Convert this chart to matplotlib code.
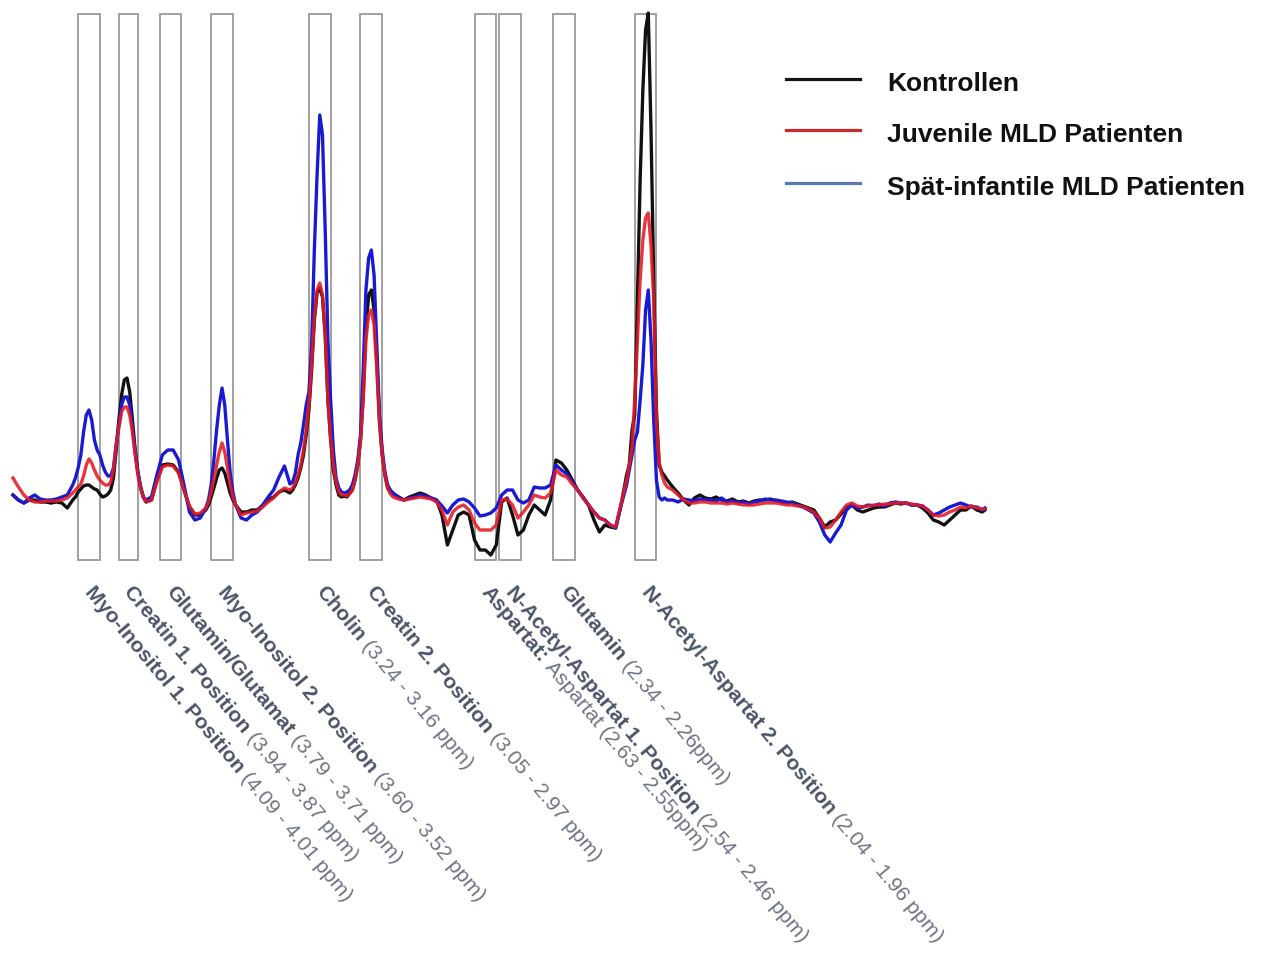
import matplotlib
matplotlib.use("Agg")
import matplotlib.pyplot as plt
from matplotlib.patches import Rectangle
from matplotlib.lines import Line2D
import numpy as np

plt.rcParams['font.family'] = ['Liberation Sans', 'DejaVu Sans']

# chemical shift grid (ppm), denser around the sharp peaks
ppm = [
    4.33, 4.31, 4.29, 4.27, 4.25, 4.23, 4.21, 4.19, 4.17, 4.15, 4.13, 4.11,
    4.10, 4.09, 4.08, 4.07, 4.06, 4.05, 4.04, 4.03, 4.02, 4.01, 4.00, 3.99, 3.98,
    3.97, 3.96, 3.95, 3.94, 3.93, 3.92, 3.91, 3.90, 3.89, 3.88, 3.87, 3.86, 3.85, 3.84,
    3.82, 3.80, 3.78, 3.76, 3.74, 3.72, 3.70, 3.68, 3.66, 3.64, 3.62,
    3.61, 3.60, 3.59, 3.58, 3.57, 3.56, 3.55, 3.54, 3.53, 3.52, 3.51,
    3.49, 3.47, 3.45, 3.43, 3.41, 3.39, 3.37, 3.35, 3.33, 3.31,
    3.30, 3.29, 3.28, 3.27, 3.26, 3.25, 3.24, 3.23, 3.22, 3.21, 3.20, 3.19, 3.18,
    3.17, 3.16, 3.15, 3.14, 3.13, 3.12, 3.11, 3.10, 3.09, 3.08, 3.07, 3.06, 3.05,
    3.04, 3.03, 3.02, 3.01, 3.00, 2.99, 2.98, 2.97, 2.96, 2.95, 2.94, 2.93,
    2.91, 2.89, 2.87, 2.85, 2.83, 2.81, 2.79, 2.77, 2.75, 2.73, 2.71, 2.69, 2.67,
    2.65, 2.63, 2.61, 2.59, 2.57, 2.55, 2.53, 2.51, 2.49, 2.47, 2.45, 2.43, 2.41,
    2.39, 2.37, 2.35, 2.33, 2.31, 2.29, 2.27, 2.25, 2.23, 2.21, 2.19, 2.17, 2.15,
    2.13, 2.11, 2.09, 2.07,
    2.06, 2.05, 2.04, 2.03, 2.02, 2.01, 2.00, 1.99, 1.98, 1.97, 1.96, 1.95, 1.94,
    1.93, 1.92,
    1.90, 1.88, 1.86, 1.84, 1.82, 1.80, 1.78, 1.76, 1.74, 1.72, 1.70, 1.68, 1.66,
    1.64, 1.62, 1.60, 1.58, 1.56, 1.54, 1.52, 1.50, 1.48, 1.46, 1.44, 1.42, 1.40,
    1.38, 1.36, 1.34, 1.32, 1.30, 1.28, 1.26, 1.24, 1.22, 1.20, 1.18, 1.16, 1.14,
    1.12, 1.10, 1.08, 1.06, 1.04, 1.02, 1.00, 0.98, 0.96, 0.94, 0.92, 0.90, 0.88,
    0.86, 0.84, 0.82, 0.80, 0.78, 0.76, 0.75,
]

# mean spectra (arbitrary units)
kontrollen = [
    0.5, 0.0, -0.3, 0.0, 0.0, -0.2, -0.2, -0.3, -0.2, -0.3, -0.8, 0.0,
    0.3, 0.8, 1.1, 1.4, 1.5, 1.5, 1.3, 1.1, 1.0, 0.6, 0.3, 0.4, 0.6, 1.0, 2.2,
    5.0, 8.0, 10.5, 12.0, 12.2, 10.8, 8.0, 5.0, 2.8, 1.2, 0.3, -0.2,
    0.0, 2.0, 3.5, 3.6, 3.5, 2.8, 1.0, -0.7, -1.5, -1.5, -1.0,
    -0.5, 0.3, 1.2, 2.2, 3.0, 3.2, 2.7, 1.7, 0.7, 0.0, -0.5,
    -1.2, -1.2, -1.0, -1.0, -0.5, 0.0, 0.3, 0.8, 1.0, 0.7,
    1.0, 1.5, 2.2, 3.2, 4.5, 6.5, 9.0, 13.0, 18.0, 20.7, 21.2, 20.3, 16.5,
    10.0, 6.0, 3.0, 1.5, 0.5, 0.3, 0.4, 0.3, 0.7, 1.0, 2.0, 3.5, 6.0,
    10.5, 17.0, 20.5, 21.0, 19.0, 14.0, 8.0, 4.5, 2.5, 1.2, 0.8, 0.6,
    0.3, 0.0, 0.3, 0.5, 0.7, 0.5, 0.2, 0.0, -1.5, -4.5, -3.0, -1.5, -1.2,
    -1.5, -4.0, -5.0, -5.0, -5.5, -4.5, -0.2, 0.2, -1.5, -3.5, -3.0, -1.5, -0.5,
    -1.0, -1.5, 0.0, 4.0, 3.7, 3.0, 2.0, 1.0, 0.3, -0.5, -2.0, -3.2, -2.5,
    -2.7, -2.8, -0.5, 2.5,
    3.5, 7.0, 8.5, 20.0, 32.0, 41.0, 47.0, 48.7, 37.0, 22.0, 9.0, 3.5, 2.8,
    2.4, 2.0,
    1.3, 0.7, 0.0, -0.5, 0.2, 0.5, 0.2, 0.1, 0.3, 0.0, -0.1, 0.1, -0.2,
    -0.1, -0.3, -0.1, 0.0, 0.0, 0.1, -0.1, -0.2, -0.3, -0.2, -0.4, -0.6, -0.8,
    -1.0, -1.8, -2.7, -2.2, -2.0, -1.4, -0.7, -0.5, -1.0, -1.2, -1.0, -0.8, -0.7,
    -0.7, -0.5, -0.3, -0.4, -0.3, -0.5, -0.5, -0.8, -1.3, -2.0, -2.2, -2.5, -2.0,
    -1.5, -1.0, -1.0, -0.6, -1.0, -1.2, -1.0,
]

juvenile = [
    2.2, 1.3, 0.5, 0.0, -0.2, -0.2, -0.1, -0.1, -0.1, 0.0, 0.2, 0.7,
    1.0, 1.3, 1.6, 2.4, 3.5, 4.1, 3.7, 3.0, 2.4, 2.0, 1.7, 1.5, 1.5, 1.8, 3.0,
    5.5, 7.2, 8.8, 9.3, 9.3, 8.5, 6.8, 4.5, 2.5, 1.2, 0.3, -0.2,
    0.0, 1.8, 3.3, 3.5, 3.4, 2.7, 1.0, -0.6, -1.4, -1.3, -0.8,
    -0.2, 0.8, 2.0, 3.5, 4.8, 5.7, 4.8, 3.2, 1.5, 0.3, -0.5,
    -1.5, -1.3, -1.2, -1.1, -0.7, -0.2, 0.2, 0.8, 1.2, 1.0,
    1.2, 1.7, 2.5, 3.5, 5.0, 7.0, 9.5, 13.5, 18.2, 21.0, 21.7, 20.5, 16.5,
    10.0, 6.2, 3.5, 1.8, 0.8, 0.5, 0.5, 0.4, 0.6, 1.0, 2.0, 3.5, 5.8,
    10.0, 16.0, 18.5, 19.0, 17.5, 13.0, 7.5, 4.5, 2.5, 1.2, 0.6, 0.3,
    0.1, 0.0, 0.1, 0.2, 0.3, 0.2, 0.1, -0.2, -1.0, -2.5, -1.2, -0.7, -0.5,
    -1.0, -2.3, -3.0, -3.0, -3.0, -2.5, 0.0, 0.1, -0.5, -1.8, -1.2, -0.5, 0.5,
    0.3, 0.2, 0.7, 3.0, 2.5, 2.3, 1.6, 1.0, 0.2, -0.5, -1.2, -1.8, -2.0,
    -2.5, -2.7, -0.3, 2.0,
    3.5, 5.3, 10.0, 16.0, 22.0, 26.0, 28.2, 28.7, 25.5, 20.0, 8.0, 3.8, 2.5,
    1.7, 1.3,
    1.0, 0.5, 0.0, -0.3, -0.3, -0.2, -0.2, -0.3, -0.3, -0.3, -0.4, -0.3, -0.4,
    -0.5, -0.5, -0.5, -0.4, -0.3, -0.3, -0.3, -0.4, -0.5, -0.5, -0.6, -0.7, -0.9,
    -1.2, -1.8, -2.8, -2.7, -2.0, -1.2, -0.5, -0.3, -0.6, -0.7, -0.6, -0.5, -0.5,
    -0.4, -0.4, -0.3, -0.3, -0.3, -0.4, -0.5, -0.6, -1.0, -1.5, -1.6, -1.5, -1.2,
    -1.0, -0.7, -0.8, -0.6, -0.8, -0.9, -0.9,
]

spaet_infantil = [
    0.5, 0.0, -0.3, 0.2, 0.5, 0.1, 0.0, 0.0, 0.1, 0.3, 0.5, 1.5,
    2.2, 3.2, 4.5, 6.8, 8.5, 9.0, 8.0, 6.0, 5.0, 4.5, 3.5, 2.8, 2.4, 2.4, 3.2,
    5.5, 7.5, 9.5, 10.3, 10.3, 9.5, 7.2, 4.8, 2.8, 1.4, 0.3, 0.0,
    0.3, 2.5, 4.5, 5.0, 5.0, 4.0, 1.5, -1.2, -2.0, -1.8, -0.8,
    0.0, 1.5, 4.0, 7.0, 9.5, 11.2, 9.5, 6.0, 2.7, 0.8, -0.5,
    -1.8, -2.0, -1.5, -1.2, -0.5, 0.3, 1.0, 2.3, 3.4, 1.6,
    1.8, 2.7, 4.5, 5.7, 7.5, 9.5, 10.8, 15.5, 25.0, 32.5, 38.5, 36.5, 27.0,
    16.0, 10.0, 5.0, 2.2, 1.2, 0.8, 0.7, 0.8, 1.0, 1.5, 2.5, 4.0, 6.5,
    13.0, 21.0, 24.2, 25.0, 22.5, 15.5, 8.5, 5.0, 2.8, 1.5, 1.0, 0.7,
    0.3, 0.0, 0.2, 0.3, 0.5, 0.4, 0.2, 0.0, -0.6, -1.3, -0.5, 0.0, 0.1,
    -0.2, -0.8, -1.6, -1.5, -1.3, -0.8, 0.5, 1.0, 1.0, 0.0, -0.3, 0.0, 1.3,
    1.2, 1.2, 1.5, 3.5, 3.0, 2.6, 1.8, 1.0, 0.2, -0.5, -1.2, -1.8, -2.0,
    -2.5, -2.8, -0.5, 1.5,
    3.0, 4.5, 6.0, 6.8, 10.0, 13.5, 19.0, 21.0, 16.0, 8.0, 2.0, 0.3, 0.0,
    0.2, 0.0,
    0.0, -0.2, 0.1, 0.0, -0.1, 0.1, 0.0, 0.0, -0.1, 0.2, -0.2, -0.1, -0.3,
    -0.2, -0.4, -0.2, -0.1, 0.1, 0.0, 0.0, -0.1, -0.2, -0.3, -0.5, -0.7, -1.0,
    -1.3, -2.2, -3.5, -4.2, -3.3, -2.5, -1.0, -0.5, -0.8, -0.7, -0.5, -0.6, -0.4,
    -0.6, -0.3, -0.2, -0.3, -0.3, -0.5, -0.5, -0.6, -1.0, -1.5, -1.3, -1.0, -0.7,
    -0.5, -0.3, -0.5, -0.7, -0.7, -1.0, -0.8,
]

series_names = ["Kontrollen", "Juvenile MLD Patienten", "Spät-infantile MLD Patienten"]

# integration windows (ppm, high -> low) and their labels
regions = [(4.09, 4.01), (3.94, 3.87), (3.79, 3.71), (3.60, 3.52), (3.24, 3.16),
           (3.05, 2.97), (2.63, 2.55), (2.54, 2.46), (2.34, 2.26), (2.04, 1.96)]
region_names = ["Myo-Inositol 1. Position", "Creatin 1. Position", "Glutamin/Glutamat",
                "Myo-Inositol 2. Position", "Cholin", "Creatin 2. Position", "Aspartat:",
                "N-Acetyl-Aspartat 1. Position", "Glutamin", "N-Acetyl-Aspartat 2. Position"]
region_ranges = ["(4.09 - 4.01 ppm)", "(3.94 - 3.87 ppm)", "(3.79 - 3.71 ppm)",
                 "(3.60 - 3.52 ppm)", "(3.24 - 3.16 ppm)", "(3.05 - 2.97 ppm)",
                 "Aspartat (2.63 - 2.55ppm)", "(2.54 - 2.46 ppm)", "(2.34 - 2.26ppm)",
                 "(2.04 - 1.96 ppm)"]

for s in (kontrollen, juvenile, spaet_infantil):
    assert len(s) == len(ppm), (len(s), len(ppm))

W, H, DPI = 1263, 956, 100
fig = plt.figure(figsize=(W / DPI, H / DPI), dpi=DPI, facecolor="white")

# axes spanning full width; plot area from y=14px to y=560px
top_px, bot_px = 14, 560
ax = fig.add_axes([0, (H - bot_px) / H, 1, (bot_px - top_px) / H])
ax.set_xlim(4.3778, 4.3778 - W / 271.5)
y0, y1 = -6.0, 48.6
ax.set_ylim(y0, y1)
ax.axis("off")

# metabolite windows
for hi, lo in regions:
    ax.add_patch(Rectangle((lo, y0), hi - lo, y1 - y0, fill=False,
                           edgecolor="#9a9a9a", linewidth=1.3, clip_on=False, zorder=1))

x = np.array(ppm)
LW = 2.4
ax.plot(x, kontrollen, color="#111111", lw=LW, zorder=3, clip_on=False,
        solid_joinstyle="round")
ax.plot(x, spaet_infantil, color="#1a1ad2", lw=LW, zorder=4, clip_on=False,
        solid_joinstyle="round")
ax.plot(x, juvenile, color="#e41a24", lw=LW, alpha=0.88, zorder=5, clip_on=False,
        solid_joinstyle="round")

# rotated region labels: bold name followed by the ppm window
fig.canvas.draw()
renderer = fig.canvas.get_renderer()
FS = 15.2
ANG = 50.0
c, s = np.cos(np.radians(ANG)), np.sin(np.radians(ANG))


def text_width(txt, **kw):
    t = fig.text(0, 0, txt, fontsize=FS, **kw)
    w = t.get_window_extent(renderer).width
    t.remove()
    return w


gap = text_width("x x") - text_width("xx")
name_color = "#4c5468"
range_color = "#6e7484"
for (hi, lo), name, rng in zip(regions, region_names, region_ranges):
    xc = (hi + lo) / 2
    bx, by = -5, -32
    ax.annotate(name, xy=(xc, y0), xycoords="data", xytext=(bx, by),
                textcoords="offset pixels", rotation=-ANG, rotation_mode="anchor",
                ha="left", va="baseline", fontsize=FS, fontweight="bold",
                color=name_color, annotation_clip=False)
    w = text_width(name, fontweight="bold") + gap
    ax.annotate(rng, xy=(xc, y0), xycoords="data", xytext=(bx + w * c, by - w * s),
                textcoords="offset pixels", rotation=-ANG, rotation_mode="anchor",
                ha="left", va="baseline", fontsize=FS, color=range_color,
                annotation_clip=False)

# legend
legend_colors = ["#151515", "#cc2a2a", "#5a78b2"]
legend_y = [79, 130, 183]
for name, col, ly in zip(series_names, legend_colors, legend_y):
    yy = 1 - ly / H
    fig.add_artist(Line2D([786 / W, 860 / W], [yy, yy], color=col, lw=2.3,
                          transform=fig.transFigure))
    fig.text(887 / W, 1 - (ly + 12) / H, name, fontsize=19, fontweight="bold",
             color="#111111", ha="left", va="baseline")

fig.savefig("out.png", dpi=DPI, facecolor="white")
